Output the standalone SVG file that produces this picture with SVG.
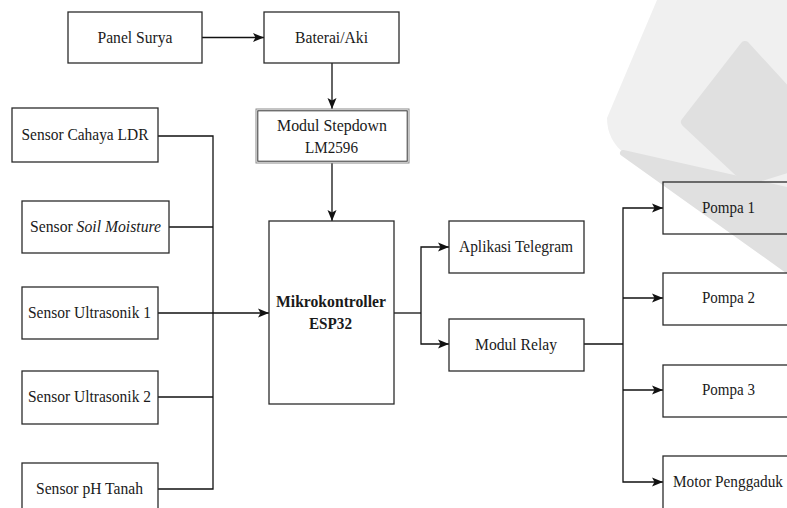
<svg xmlns="http://www.w3.org/2000/svg" width="787" height="508" viewBox="0 0 787 508">
<defs>
<marker id="arr" markerUnits="userSpaceOnUse" markerWidth="12" markerHeight="10" refX="11" refY="5" orient="auto">
<path d="M0,0.5 L11,5 L0,9.5 L2.5,5 Z" fill="#111"/>
</marker>
</defs>
<style>
.box{fill:none;stroke:#2b2b2b;stroke-width:1.3}
.t{font-family:"Liberation Serif","Times New Roman",serif;font-size:17px;fill:#1a1a1a;text-anchor:middle}
.b{font-weight:bold}
.c{fill:none;stroke:#111;stroke-width:1.3}
.a{marker-end:url(#arr)}
</style>
<rect width="787" height="508" fill="#ffffff"/>
<g id="watermark" stroke-linejoin="round">
<path d="M657,0 L787,0 L787,192 L625,154 Q607,140 607,118 Z" fill="#f0f0f0"/>
<path d="M623,153 L787,190 L787,270 Z" fill="#e0e0e0" stroke="#e0e0e0" stroke-width="6"/>
<path d="M745,46 L787,92 L787,168 L748,180 L686,122 Z" fill="#e0e0e0" stroke="#e0e0e0" stroke-width="10"/>
</g>
<g id="connectors">
<line class="c a" x1="202" y1="37.5" x2="264" y2="37.5"/>
<line class="c a" x1="332" y1="63" x2="332" y2="109"/>
<line class="c a" x1="332" y1="163" x2="332" y2="221"/>
<polyline class="c" points="158,136 213,136 213,489 158,489"/>
<line class="c" x1="169" y1="227" x2="213" y2="227"/>
<line class="c" x1="158" y1="397" x2="213" y2="397"/>
<line class="c a" x1="158" y1="313" x2="269" y2="313"/>
<line class="c" x1="394" y1="313" x2="421" y2="313"/>
<polyline class="c a" points="421,313 421,247 449,247"/>
<polyline class="c a" points="421,313 421,344 449,344"/>
<line class="c" x1="584" y1="344" x2="623" y2="344"/>
<polyline class="c a" points="623,344 623,208 663,208"/>
<line class="c a" x1="623" y1="298" x2="663" y2="298"/>
<line class="c a" x1="623" y1="390" x2="663" y2="390"/>
<polyline class="c a" points="623,344 623,482 663,482"/>
</g>
<g id="panel-surya"><rect class="box" x="68" y="12" width="134" height="51"/><text class="t" x="135" y="43" textLength="75" lengthAdjust="spacingAndGlyphs">Panel Surya</text></g>
<g id="baterai"><rect class="box" x="264" y="12" width="135" height="51"/><text class="t" x="331.5" y="43" textLength="73" lengthAdjust="spacingAndGlyphs">Baterai/Aki</text></g>
<g id="stepdown"><rect x="256" y="109" width="153" height="54" fill="none" stroke="#8a8a8a" stroke-width="1"/><rect x="257.8" y="110.8" width="149.4" height="50.4" fill="none" stroke="#333" stroke-width="1"/><text class="t" x="332" y="131" textLength="110" lengthAdjust="spacingAndGlyphs">Modul Stepdown</text><text class="t" x="331.5" y="153" textLength="53" lengthAdjust="spacingAndGlyphs">LM2596</text></g>
<g id="sensor-ldr"><rect class="box" x="12" y="108" width="146" height="54"/><text class="t" x="85" y="140" textLength="127" lengthAdjust="spacingAndGlyphs">Sensor Cahaya LDR</text></g>
<g id="sensor-soil"><rect class="box" x="22" y="201" width="147" height="52"/><text class="t" x="30" y="232" style="text-anchor:start" textLength="131" lengthAdjust="spacingAndGlyphs">Sensor <tspan font-style="italic">Soil Moisture</tspan></text></g>
<g id="sensor-us1"><rect class="box" x="22" y="287" width="136" height="52"/><text class="t" x="89.5" y="318" textLength="123" lengthAdjust="spacingAndGlyphs">Sensor Ultrasonik 1</text></g>
<g id="sensor-us2"><rect class="box" x="22" y="371" width="136" height="53"/><text class="t" x="89.5" y="402" textLength="123" lengthAdjust="spacingAndGlyphs">Sensor Ultrasonik 2</text></g>
<g id="sensor-ph"><rect class="box" x="22" y="463" width="136" height="55"/><text class="t" x="89.5" y="494" textLength="107" lengthAdjust="spacingAndGlyphs">Sensor pH Tanah</text></g>
<g id="mikrokontroller"><rect class="box" x="269" y="221" width="125" height="183"/><text class="t b" x="331" y="307" textLength="110" lengthAdjust="spacingAndGlyphs">Mikrokontroller</text><text class="t b" x="330.5" y="329" textLength="43" lengthAdjust="spacingAndGlyphs">ESP32</text></g>
<g id="telegram"><rect class="box" x="449" y="221" width="135" height="52"/><text class="t" x="516" y="252" textLength="114" lengthAdjust="spacingAndGlyphs">Aplikasi Telegram</text></g>
<g id="relay"><rect class="box" x="449" y="319" width="135" height="52"/><text class="t" x="516" y="350" textLength="82" lengthAdjust="spacingAndGlyphs">Modul Relay</text></g>
<g id="pompa1"><rect class="box" x="663" y="182" width="132" height="52"/><text class="t" x="728.5" y="213" textLength="53" lengthAdjust="spacingAndGlyphs">Pompa 1</text></g>
<g id="pompa2"><rect class="box" x="663" y="273" width="132" height="52"/><text class="t" x="728.5" y="303" textLength="53" lengthAdjust="spacingAndGlyphs">Pompa 2</text></g>
<g id="pompa3"><rect class="box" x="663" y="365" width="132" height="52"/><text class="t" x="728.5" y="395" textLength="53" lengthAdjust="spacingAndGlyphs">Pompa 3</text></g>
<g id="motor"><rect class="box" x="663" y="456" width="132" height="62"/><text class="t" x="728" y="487" textLength="110" lengthAdjust="spacingAndGlyphs">Motor Penggaduk</text></g>
</svg>
